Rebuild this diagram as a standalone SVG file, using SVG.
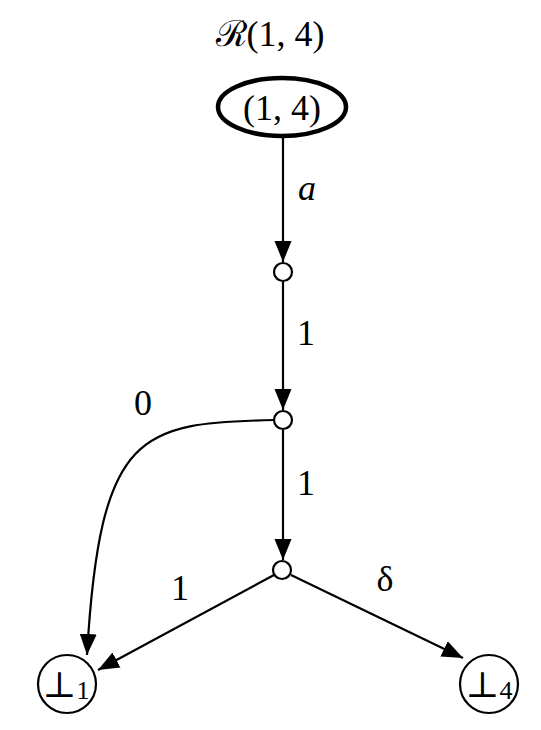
<svg xmlns="http://www.w3.org/2000/svg" width="541" height="730" viewBox="0 0 541 730">
<style>
.t{font-family:"Liberation Serif","DejaVu Serif",serif;font-size:36px;fill:#000}
.e{fill:none;stroke:#000;stroke-width:2.2}
.s{fill:#fff;stroke:#000;stroke-width:2.2}
</style>
<defs>
<marker id="ah" markerUnits="userSpaceOnUse" markerWidth="22" markerHeight="18" refX="21" refY="8.5" orient="auto">
<path d="M0,0 L21,8.5 L0,17 z" fill="#000"/>
</marker>
</defs>
<rect width="541" height="730" fill="#fff"/>
<text class="t" x="270" y="46" text-anchor="middle">ℛ(1, 4)</text>
<g id="edges">
<line class="e" x1="283" y1="137" x2="283" y2="262" marker-end="url(#ah)"/>
<line class="e" x1="283" y1="282" x2="283" y2="410" marker-end="url(#ah)"/>
<line class="e" x1="283" y1="430" x2="283" y2="560" marker-end="url(#ah)"/>
<path class="e" d="M274,420 C140,423 100,430 87,655" marker-end="url(#ah)"/>
<line class="e" x1="274" y1="575" x2="98" y2="670" marker-end="url(#ah)"/>
<line class="e" x1="291" y1="575" x2="463" y2="658" marker-end="url(#ah)"/>
<text class="t" x="298" y="200" font-style="italic">a</text>
<text class="t" x="306" y="345" text-anchor="middle">1</text>
<text class="t" x="306" y="495" text-anchor="middle">1</text>
<text class="t" x="143" y="415" text-anchor="middle">0</text>
<text class="t" x="180" y="600" text-anchor="middle">1</text>
<text class="t" x="385" y="591" text-anchor="middle">δ</text>
</g>
<g id="n14">
<ellipse cx="282" cy="107" rx="64" ry="29" fill="#fff" stroke="#000" stroke-width="4.5"/>
<text class="t" x="282" y="120" text-anchor="middle">(1, 4)</text>
</g>
<g id="c1"><circle class="s" cx="283" cy="272" r="9"/></g>
<g id="c2"><circle class="s" cx="283" cy="420" r="9"/></g>
<g id="c3"><circle class="s" cx="282" cy="570" r="9"/></g>
<g id="b1">
<circle class="s" cx="67" cy="684" r="29"/>
<text class="t" x="66" y="697" text-anchor="middle" font-family="'Liberation Serif','DejaVu Sans',serif">⊥<tspan font-size="26" dy="2">1</tspan></text>
</g>
<g id="b4">
<circle class="s" cx="489" cy="684" r="29"/>
<text class="t" x="489" y="697" text-anchor="middle" font-family="'Liberation Serif','DejaVu Sans',serif">⊥<tspan font-size="26" dy="2">4</tspan></text>
</g>
</svg>
